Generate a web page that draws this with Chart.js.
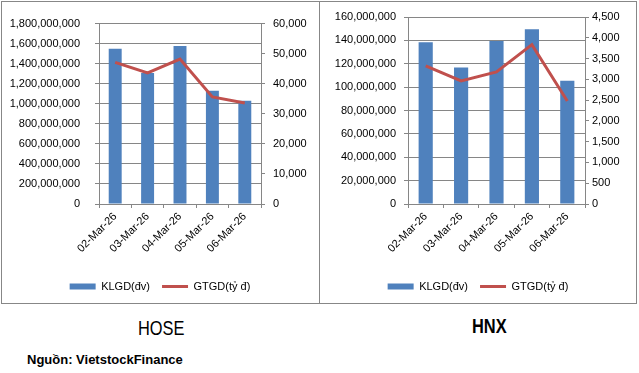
<!DOCTYPE html>
<html>
<head>
<meta charset="utf-8">
<script src="https://cdn.jsdelivr.net/npm/chart.js@4/dist/chart.umd.min.js"></script>
<style>
  body { margin: 0; background: #fff; }
  #wrap { position: relative; width: 639px; height: 373px; overflow: hidden; }
  .panel { position: absolute; top: 1px; height: 303px; border: 1px solid #878787; box-sizing: border-box; }
  .panel canvas { position: absolute; left: 0; top: 0; }
  .title { position: absolute; font-family: "Liberation Sans", sans-serif; font-size: 20px; line-height: 20px; color: #000; white-space: nowrap; transform: scaleX(0.82); transform-origin: 0 0; }
  #source { position: absolute; left: 27px; top: 353px; font-family: "Liberation Sans", sans-serif; font-weight: bold; font-size: 13px; line-height: 13px; color: #000; }
</style>
</head>
<body>
<div id="wrap">
  <div class="panel" style="left:1px; width:319px;"><canvas id="hoseChart" width="316" height="300"></canvas></div>
  <div class="panel" style="left:319px; width:318px;"><canvas id="hnxChart" width="316" height="300"></canvas></div>
  <div class="title" style="left:138px; top:318px;">HOSE</div>
  <div class="title" style="left:472px; top:316px; font-weight:bold;">HNX</div>
  <div id="source">Nguồn: VietstockFinance</div>
</div>
<script>
// --- data ---
const dates = ['02-Mar-26', '03-Mar-26', '04-Mar-26', '05-Mar-26', '06-Mar-26'];

const hoseVolume = [1550000000, 1307000000, 1576000000, 1129000000, 1031000000]; // KLGD (đv)
const hoseValue = [47100, 43600, 48200, 35600, 33600];                            // GTGD (tỷ đ)

const hnxVolume = [138400000, 116800000, 139500000, 149600000, 105500000];
const hnxValue = [3325, 2960, 3180, 3835, 2480];

const volumeLabel = 'KLGD(đv)';
const valueLabel = 'GTGD(tỷ đ)';

const GRID = '#868686';
const FONT = { family: 'Liberation Sans', size: 11 };

function fmt(v) {
    return Number(v).toLocaleString('en-US');
}

function makeChart(id, volume, value, axes) {
    const ctx = document.getElementById(id).getContext('2d');
    return new Chart(ctx, {
        type: 'bar',
        data: {
            labels: dates,
            datasets: [
                {
                    label: volumeLabel,
                    data: volume,
                    backgroundColor: '#4F81BD',
                    borderWidth: 0,
                    barPercentage: 0.4,
                    categoryPercentage: 1.0,
                    yAxisID: 'y',
                    order: 1
                },
                {
                    label: valueLabel,
                    data: value,
                    type: 'line', // line on the right axis
                    borderColor: '#C0504D',
                    backgroundColor: '#C0504D',
                    borderWidth: 3,
                    pointRadius: 0,
                    tension: 0,
                    fill: false,
                    yAxisID: 'y1',
                    order: 0 // drawn on top of the bars
                }
            ]
        },
        options: {
            responsive: false,
            animation: false,
            devicePixelRatio: 1,
            layout: { padding: { top: 15, bottom: 0, left: 0, right: 0 } },
            scales: {
                x: {
                    grid: { drawOnChartArea: false, drawTicks: true, tickLength: 4, color: GRID, offset: true },
                    border: { display: true, color: GRID },
                    ticks: { color: '#000', font: FONT, maxRotation: 45, minRotation: 45, padding: 2, autoSkip: false },
                    afterFit: s => { s.height = 65; }
                },
                y: {
                    position: 'left',
                    min: 0, max: axes.leftMax,
                    ticks: { stepSize: axes.leftStep, color: '#000', font: FONT, padding: axes.leftPad, callback: fmt },
                    grid: { color: GRID, tickLength: 4, tickColor: GRID },
                    border: { display: true, color: GRID },
                    afterFit: s => { s.width = axes.leftWidth; }
                },
                y1: {
                    position: 'right',
                    min: 0, max: axes.rightMax,
                    ticks: { stepSize: axes.rightStep, color: '#000', font: FONT, padding: axes.rightPad, callback: fmt },
                    grid: { drawOnChartArea: false, tickLength: 4, color: GRID },
                    border: { display: true, color: GRID },
                    afterFit: s => { s.width = axes.rightWidth; }
                }
            },
            plugins: {
                tooltip: { enabled: false },
                legend: {
                    position: 'bottom',
                    labels: {
                        color: '#000',
                        font: FONT,
                        padding: 12,
                        usePointStyle: true,
                        pointStyleWidth: 26,
                        boxHeight: 6,
                        generateLabels: chart => {
                            const items = Chart.defaults.plugins.legend.labels.generateLabels(chart);
                            items.forEach(it => {
                                it.pointStyle = it.datasetIndex === 0 ? 'rect' : 'line';
                                if (it.datasetIndex === 0) it.lineWidth = 0;
                            });
                            // bars first, like the original legend
                            return items.sort((a, b) => a.datasetIndex - b.datasetIndex);
                        }
                    }
                }
            }
        }
    });
}

makeChart('hoseChart', hoseVolume, hoseValue, {
    leftMax: 1800000000, leftStep: 200000000, leftPad: 15, leftWidth: 97,
    rightMax: 60000, rightStep: 10000, rightPad: 8, rightWidth: 57
});

makeChart('hnxChart', hnxVolume, hnxValue, {
    leftMax: 160000000, leftStep: 20000000, leftPad: 8, leftWidth: 88,
    rightMax: 4500, rightStep: 500, rightPad: 3, rightWidth: 51
});
</script>
</body>
</html>
